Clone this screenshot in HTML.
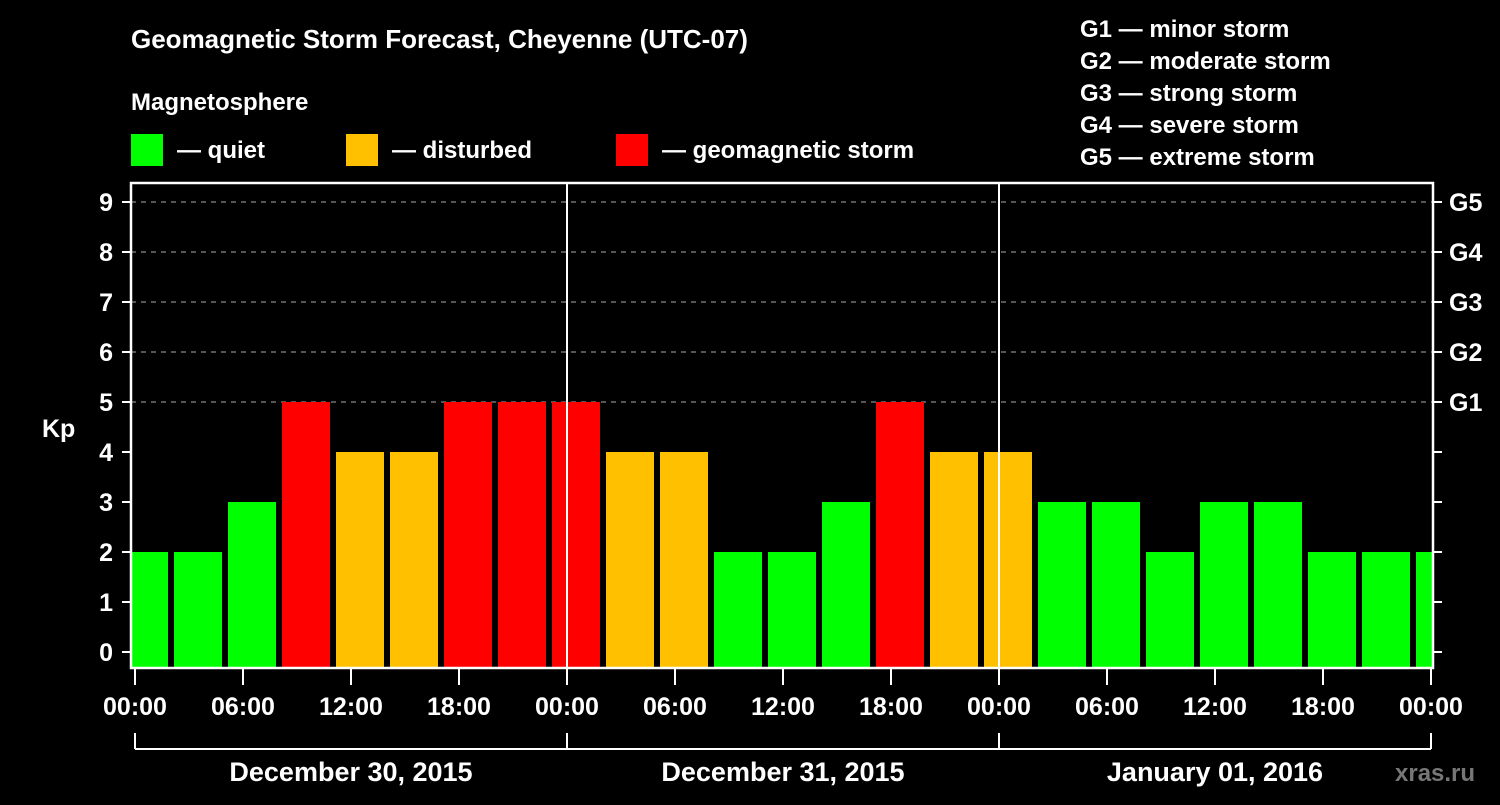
<!DOCTYPE html>
<html><head><meta charset="utf-8"><style>
html,body{margin:0;padding:0;background:#000;}
svg text{font-family:"Liberation Sans",sans-serif;font-weight:bold;fill:#fff;}
</style></head><body>
<svg width="1500" height="800" viewBox="0 0 1500 800">
<rect width="1500" height="800" fill="#000"/>
<text x="131" y="48" font-size="26">Geomagnetic Storm Forecast, Cheyenne (UTC-07)</text>
<text x="131" y="110" font-size="24">Magnetosphere</text>
<g>
<rect x="131" y="134" width="32" height="32" fill="#00ff00"/>
<text x="177" y="158" font-size="24">— quiet</text>
<rect x="346" y="134" width="32" height="32" fill="#ffc000"/>
<text x="392" y="158" font-size="24">— disturbed</text>
<rect x="616" y="134" width="32" height="32" fill="#ff0000"/>
<text x="662" y="158" font-size="24">— geomagnetic storm</text>
</g>
<g font-size="24">
<text x="1080" y="37">G1 — minor storm</text>
<text x="1080" y="69">G2 — moderate storm</text>
<text x="1080" y="101">G3 — strong storm</text>
<text x="1080" y="133">G4 — severe storm</text>
<text x="1080" y="165">G5 — extreme storm</text>
</g>
<g id="plot"></g>
<text x="1395" y="781" font-size="24" fill="#777" style="fill:#777">xras.ru</text>
</svg>
<script>
const kpValues=[2,2,3,5,4,4,5,5,5,4,4,2,2,3,5,4,4,3,3,2,3,3,2,2,2];
const yTicks=[0,1,2,3,4,5,6,7,8,9];
const gLabels=["G1","G2","G3","G4","G5"];
const gLevels=[5,6,7,8,9];
const xTickLabels=["00:00","06:00","12:00","18:00","00:00","06:00","12:00","18:00","00:00","06:00","12:00","18:00","00:00"];
const dayLabels=["December 30, 2015","December 31, 2015","January 01, 2016"];

const NS="http://www.w3.org/2000/svg";
const g=document.getElementById('plot');
const L=131,R=1433,T=183,B=668;
const x0=135,pxH=18;
const xs=h=>x0+h*pxH;
const ys=v=>652-v*50;
function mk(tag,attrs,parent){const e=document.createElementNS(NS,tag);for(const k in attrs)e.setAttribute(k,attrs[k]);(parent||g).appendChild(e);return e;}
const clip=mk('clipPath',{id:'pc'});mk('rect',{x:L,y:T,width:R-L,height:B-T},clip);
// grid
gLevels.forEach(v=>{const l=mk('line',{x1:L,x2:R,y1:ys(v),y2:ys(v),stroke:'#888','stroke-width':1.2,'stroke-dasharray':'5,5'});

});
// bars
const bg=mk('g',{'clip-path':'url(#pc)'});
kpValues.forEach((v,i)=>{const c=xs(0.5+3*i);const col=v>=5?'#ff0000':(v>=4?'#ffc000':'#00ff00');
const r=mk('rect',{x:c-24,y:ys(v),width:48,height:B-ys(v),fill:col},bg);

});
// day separators
[24,48].forEach(h=>{const l=mk('line',{x1:xs(h),x2:xs(h),y1:T,y2:B,stroke:'#fff','stroke-width':2});

});
// frame
const f=mk('rect',{x:L,y:T,width:R-L,height:B-T,fill:'none',stroke:'#fff','stroke-width':2.5});


// y ticks
yTicks.forEach(v=>{mk('line',{x1:122,x2:L,y1:ys(v),y2:ys(v),stroke:'#fff','stroke-width':2});
mk('line',{x1:R,x2:1442,y1:ys(v),y2:ys(v),stroke:'#fff','stroke-width':2});
const t=mk('text',{x:113,y:ys(v)+9,'font-size':25,'text-anchor':'end'});t.textContent=v;

});
gLabels.forEach((s,i)=>{const t=mk('text',{x:1449,y:ys(gLevels[i])+9,'font-size':25});t.textContent=s;

});
const yt=mk('text',{x:42,y:437,'font-size':25});yt.textContent='Kp';


// x ticks
xTickLabels.forEach((s,i)=>{const x=xs(i*6);mk('line',{x1:x,x2:x,y1:B,y2:685,stroke:'#fff','stroke-width':2});
const t=mk('text',{x:x,y:715,'font-size':25,'text-anchor':'middle'});t.textContent=s;

});
// date bracket
mk('line',{x1:xs(0),x2:xs(72),y1:749,y2:749,stroke:'#fff','stroke-width':2});
[0,24,48,72].forEach(h=>mk('line',{x1:xs(h),x2:xs(h),y1:733,y2:749,stroke:'#fff','stroke-width':2}));
dayLabels.forEach((s,i)=>{const t=mk('text',{x:xs(12+24*i),y:781,'font-size':27,'text-anchor':'middle'});t.textContent=s;

});
</script>
</body></html>
